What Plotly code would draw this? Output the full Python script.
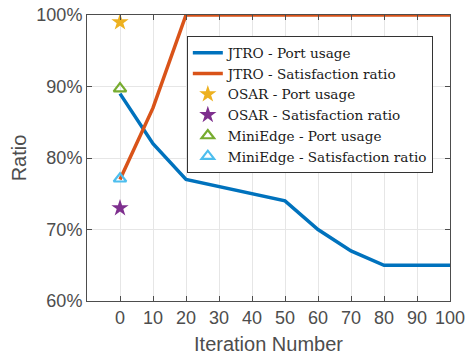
import plotly.graph_objects as go

iterations = [0, 10, 20, 30, 40, 50, 60, 70, 80, 90, 100]
jtro_port_usage = [89, 82, 77, 76, 75, 74, 70, 67, 65, 65, 65]
jtro_satisfaction = [77, 87, 100, 100, 100, 100, 100, 100, 100, 100, 100]
osar_port_usage = [99]
osar_satisfaction = [73]
miniedge_port_usage = [89.7]
miniedge_satisfaction = [77.1]
baseline_x = [0]

y_ticks = [60, 70, 80, 90, 100]
y_tick_labels = ["60%", "70%", "80%", "90%", "100%"]

fig = go.Figure()
fig.add_trace(go.Scatter(x=iterations, y=jtro_port_usage, mode="lines",
                         line=dict(color="#0072BD", width=3.5),
                         name="JTRO - Port usage"))
fig.add_trace(go.Scatter(x=iterations, y=jtro_satisfaction, mode="lines",
                         line=dict(color="#D95319", width=3.5),
                         name="JTRO - Satisfaction ratio"))
fig.add_trace(go.Scatter(x=baseline_x, y=osar_port_usage, mode="markers",
                         marker=dict(symbol="star", size=13, color="#EDB120"),
                         name="OSAR - Port usage"))
fig.add_trace(go.Scatter(x=baseline_x, y=osar_satisfaction, mode="markers",
                         marker=dict(symbol="star", size=13, color="#7E2F8E"),
                         name="OSAR - Satisfaction ratio"))
fig.add_trace(go.Scatter(x=baseline_x, y=miniedge_port_usage, mode="markers",
                         marker=dict(symbol="triangle-up-open", size=11, color="#77AC30",
                                     line=dict(width=2.2, color="#77AC30")),
                         name="MiniEdge - Port usage"))
fig.add_trace(go.Scatter(x=baseline_x, y=miniedge_satisfaction, mode="markers",
                         marker=dict(symbol="triangle-up-open", size=11, color="#4DBEEE",
                                     line=dict(width=2.2, color="#4DBEEE")),
                         name="MiniEdge - Satisfaction ratio"))

axis_font = dict(family="Liberation Sans, Arial", size=18, color="#4d4d4d")
title_font = dict(family="Liberation Sans, Arial", size=20, color="#4d4d4d")
fig.update_layout(
    width=466, height=358,
    margin=dict(l=87, r=16, t=15, b=57, autoexpand=False),
    paper_bgcolor="white", plot_bgcolor="white",
    showlegend=True,
    legend=dict(x=0.275, y=0.925, xanchor="left", yanchor="top",
                bgcolor="white", bordercolor="#333333", borderwidth=1,
                font=dict(family="DejaVu Serif", size=13.6, color="#1a1a1a"),
                tracegroupgap=0, itemwidth=30),
    xaxis=dict(range=[-10, 100], tickvals=iterations, ticks="inside", ticklen=5,
               tickcolor="#4d4d4d", showgrid=True, gridcolor="#e6e6e6", zeroline=False,
               showline=True, linecolor="#4d4d4d", linewidth=1, mirror="ticks",
               tickfont=axis_font, automargin=False,
               title=dict(text="Iteration Number", font=title_font, standoff=10)),
    yaxis=dict(range=[60, 100], tickvals=y_ticks, ticktext=y_tick_labels, ticks="inside",
               ticklen=5, tickcolor="#4d4d4d", showgrid=True, gridcolor="#e6e6e6",
               zeroline=False, showline=True, linecolor="#4d4d4d", linewidth=1, mirror="ticks",
               tickfont=axis_font, automargin=False,
               title=dict(text="Ratio", font=title_font, standoff=4)),
)

fig.write_html("out.html")
